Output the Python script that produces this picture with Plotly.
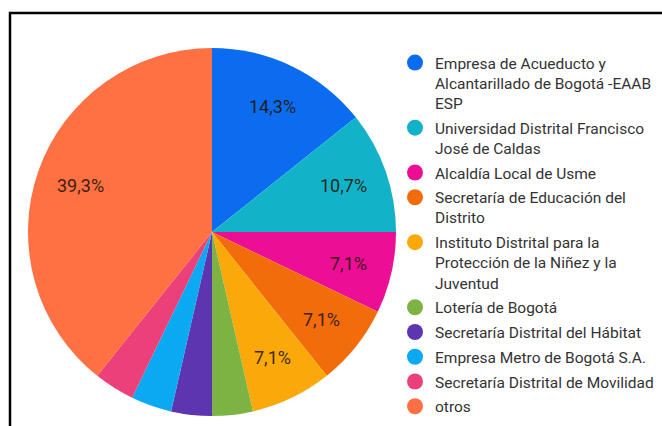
import math
import plotly.graph_objects as go

categories = [
    "Empresa de Acueducto y<br>Alcantarillado de Bogotá -EAAB<br>ESP",
    "Universidad Distrital Francisco<br>José de Caldas",
    "Alcaldía Local de Usme",
    "Secretaría de Educación del<br>Distrito",
    "Instituto Distrital para la<br>Protección de la Niñez y la<br>Juventud",
    "Lotería de Bogotá",
    "Secretaría Distrital del Hábitat",
    "Empresa Metro de Bogotá S.A.",
    "Secretaría Distrital de Movilidad",
    "otros",
]
values = [4, 3, 2, 2, 2, 1, 1, 1, 1, 11]
colors = ["#0b6cf0", "#12b3c8", "#ec0f95", "#f26c0c", "#fba90a",
          "#7cb342", "#5e35b1", "#0aa9f2", "#ec407a", "#ff7043"]

total = sum(values)
labels_text = [
    (f"{v / total * 100:.1f}".replace(".", ",") + "%") if v / total >= 0.05 else ""
    for v in values
]

W, H = 662, 426
cx, cy, R = 212, 232, 184
dom_x = [(cx - R) / W, (cx + R) / W]
dom_y = [1 - (cy + R) / H, 1 - (cy - R) / H]

fig = go.Figure()
fig.add_trace(go.Pie(
    labels=categories,
    values=values,
    textinfo="none",
    sort=False,
    direction="clockwise",
    rotation=0,
    marker=dict(colors=colors, line=dict(width=0)),
    showlegend=False,
    hoverinfo="label+percent",
    domain=dict(x=dom_x, y=dom_y),
))

# percentage labels placed at each slice's mid-angle (computed from the values)
annotations = []
cum = 0
for v, t in zip(values, labels_text):
    mid = (cum + v / 2) / total * 2 * math.pi
    cum += v
    if not t:
        continue
    rr = 0.76 * R
    px = cx + rr * math.sin(mid)
    py = cy - rr * math.cos(mid)
    annotations.append(dict(
        x=px / W, y=1 - py / H, xref="paper", yref="paper",
        text=t, showarrow=False, xanchor="center", yanchor="middle",
        font=dict(family="Roboto", size=18, color="rgba(35,20,5,0.9)"),
    ))

for i, (name, col) in enumerate(zip(categories, colors)):
    fig.add_trace(go.Scatter(
        x=[None], y=[None], mode="markers", name=name,
        legendgroup=f"g{i}",
        marker=dict(symbol="circle", size=16, color=col),
        showlegend=True,
    ))

fig.update_layout(
    width=W, height=H,
    margin=dict(l=0, r=0, t=0, b=0),
    paper_bgcolor="white",
    plot_bgcolor="white",
    xaxis=dict(visible=False),
    yaxis=dict(visible=False),
    annotations=annotations,
    legend=dict(
        x=395 / W, xanchor="left",
        y=1 - 46 / H, yanchor="top",
        valign="top",
        font=dict(family="Roboto", size=15.5, color="#333333"),
        tracegroupgap=1.6,
        bgcolor="rgba(0,0,0,0)",
    ),
    shapes=[dict(
        type="rect", xref="paper", yref="paper",
        x0=10 / W, x1=1.05, y0=-0.05, y1=1 - 13 / H,
        line=dict(color="black", width=2.5),
    )],
)

fig.write_html("out.html", config={"displayModeBar": False},
               post_script="document.body.style.margin='0px';")
